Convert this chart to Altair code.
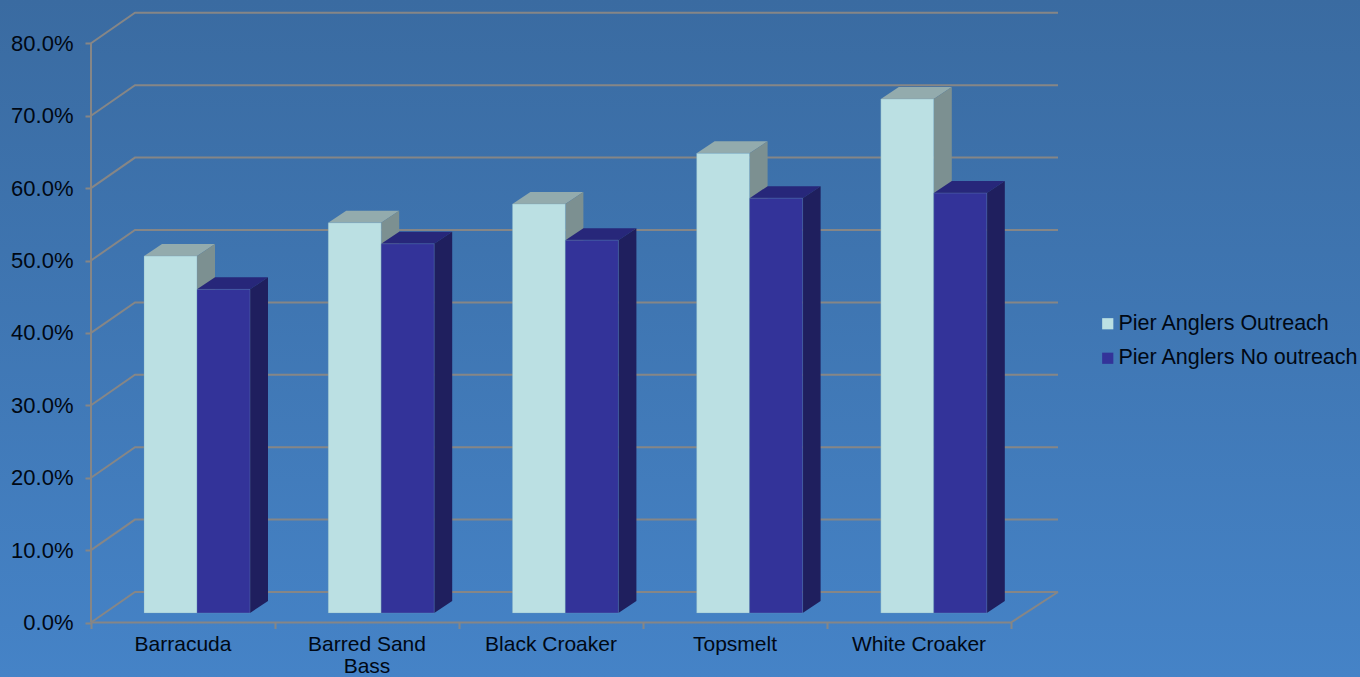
import altair as alt
import pandas as pd

# Survey results per species, in percent
species = ["Barracuda", "Barred Sand\nBass", "Black Croaker", "Topsmelt", "White Croaker"]
outreach = [49.3, 53.9, 56.5, 63.5, 71.0]
no_outreach = [44.7, 51.0, 51.5, 57.3, 58.0]
series_names = ["Pier Anglers Outreach", "Pier Anglers No outreach"]
y_ticks = [0, 10, 20, 30, 40, 50, 60, 70, 80]

WIDTH, HEIGHT = 1360, 677
PX_PER_UNIT_X = 184.2   # one category slot
PX_PER_UNIT_Y = 7.24    # one percentage point
ORIGIN_X = 197          # pixel of the first category's bar junction
ORIGIN_Y = 622.5        # pixel of 0% on the front axis

def ux(px):
    return px / PX_PER_UNIT_X

def uy(px):
    return px / PX_PER_UNIT_Y

# Oblique projection offsets, expressed in scale units
BAR_W = ux(53)
BAR_DX, BAR_DY = ux(18), uy(12)
BASE = uy(9.5)
WALL_DX, WALL_DY = ux(44), uy(30.5)
AXIS_X = ux(91 - ORIGIN_X)
SLOT = ux(184)
FLOOR_END = AXIS_X + 5 * SLOT
WALL_END = ux(1058 - ORIGIN_X)

x_scale = alt.Scale(domain=[-ORIGIN_X / PX_PER_UNIT_X, (WIDTH - ORIGIN_X) / PX_PER_UNIT_X], nice=False, zero=False)
y_scale = alt.Scale(domain=[-(HEIGHT - ORIGIN_Y) / PX_PER_UNIT_Y, ORIGIN_Y / PX_PER_UNIT_Y], nice=False, zero=False)

LIGHT, DARK = "#BBE0E3", "#333399"
LIGHT_TOP, LIGHT_SIDE = "#93ABAD", "#7C9091"
DARK_TOP, DARK_SIDE = "#27277A", "#1F1F5E"
GRID = "#868686"
FONT = "Liberation Sans"
INK = "#000814"

fronts, faces = [], []
for i, name in enumerate(species):
    for s, (series, value) in enumerate(zip(series_names, (outreach[i], no_outreach[i]))):
        left = i + (s - 1) * BAR_W
        right = left + BAR_W
        top = BASE + value
        fronts.append({"series": series, "x": left, "x2": right, "y": BASE, "y2": top})
        top_color, side_color = (LIGHT_TOP, LIGHT_SIDE) if s == 0 else (DARK_TOP, DARK_SIDE)
        key = f"{i}-{s}"
        # Top face as a sheared area, side face as a two-point area
        for px_x, hi, lo in [
            (left, top, top),
            (left + BAR_DX, top + BAR_DY, top),
            (right, top + BAR_DY, top),
            (right + BAR_DX, top + BAR_DY, top + BAR_DY),
        ]:
            faces.append({"key": key + "t", "s": s, "fill": top_color, "x": px_x, "y": hi, "y2": lo})
        for px_x, hi, lo in [
            (right, top, BASE),
            (right + BAR_DX, top + BAR_DY, BASE + BAR_DY),
        ]:
            faces.append({"key": key + "r", "s": s, "fill": side_color, "x": px_x, "y": hi, "y2": lo})

fronts = pd.DataFrame(fronts)
faces = pd.DataFrame(faces)

# Wall gridlines: one bent line per tick, plus the floor's front and right edges
grid_rows = []
for t in y_ticks:
    grid_rows += [
        {"key": f"g{t}", "x": AXIS_X, "y": t, "o": 0},
        {"key": f"g{t}", "x": AXIS_X + WALL_DX, "y": t + WALL_DY, "o": 1},
        {"key": f"g{t}", "x": WALL_END, "y": t + WALL_DY, "o": 2},
    ]
grid_rows += [
    {"key": "floor", "x": AXIS_X, "y": 0, "o": 0},
    {"key": "floor", "x": FLOOR_END, "y": 0, "o": 1},
    {"key": "floor", "x": WALL_END, "y": WALL_DY, "o": 2},
    {"key": "wall", "x": AXIS_X, "y": 0, "o": 0},
    {"key": "wall", "x": AXIS_X, "y": y_ticks[-1], "o": 1},
]
grid = pd.DataFrame(grid_rows)

labels = pd.DataFrame({
    "name": species,
    "x": [AXIS_X + (i + 0.5) * SLOT for i in range(len(species))],
    "y": [-uy(28.5)] * len(species),
})

background = alt.Chart(alt.Data(values=[{}])).mark_rect(
    color=alt.Gradient(
        gradient="linear",
        x1=0, x2=0, y1=0, y2=1,
        stops=[alt.GradientStop(offset=0, color="#3A6BA1"), alt.GradientStop(offset=1, color="#4583C7")],
    )
).encode(x=alt.value(0), x2=alt.value(WIDTH), y=alt.value(0), y2=alt.value(HEIGHT))

y_axis = alt.Axis(
    values=y_ticks, offset=-(AXIS_X + ORIGIN_X / PX_PER_UNIT_X) * PX_PER_UNIT_X, domain=False, grid=False, title=None,
    labelExpr="format(datum.value, '.1f') + '%'", labelFont=FONT, labelFontSize=22, labelColor=INK,
    tickColor=GRID, tickSize=6, tickWidth=2, labelPadding=12, zindex=1,
)
x_axis = alt.Axis(
    values=[AXIS_X + k * SLOT for k in range(len(species) + 1)], offset=-(HEIGHT - ORIGIN_Y), domain=False, grid=False,
    title=None, labels=False, tickColor=GRID, tickSize=6, tickWidth=2, zindex=1,
)

grid_layer = alt.Chart(grid).mark_line(color=GRID, strokeWidth=2).encode(
    x=alt.X("x:Q", scale=x_scale, axis=x_axis),
    y=alt.Y("y:Q", scale=y_scale, axis=y_axis),
    detail="key:N",
    order="o:Q",
)

def face_layer(s):
    return alt.Chart(faces[faces["s"] == s]).mark_area(opacity=1, interpolate="linear").encode(
        x=alt.X("x:Q", scale=x_scale, title=None),
        y=alt.Y("y:Q", scale=y_scale, title=None),
        y2="y2:Q",
        color=alt.Color("fill:N", scale=None),
        detail="key:N",
    )

front_layer = alt.Chart(fronts).mark_rect(stroke="#6E9DB8", strokeWidth=1, strokeOpacity=0.3).encode(
    x=alt.X("x:Q", scale=x_scale, title=None),
    x2="x2:Q",
    y=alt.Y("y:Q", scale=y_scale, title=None),
    y2="y2:Q",
    color=alt.Color(
        "series:N",
        scale=alt.Scale(domain=series_names, range=[LIGHT, DARK]),
        legend=alt.Legend(
            orient="none", legendX=1097, legendY=313, title=None, symbolType="square", symbolSize=125,
            symbolStrokeWidth=0, labelFont=FONT, labelFontSize=21.5, labelColor=INK, labelLimit=300,
            rowPadding=11.5, padding=0, labelOffset=0,
        ),
    ),
)

label_layer = alt.Chart(labels).mark_text(
    font=FONT, fontSize=21, color=INK, align="center", baseline="alphabetic", lineBreak="\n", lineHeight=21.5,
).encode(
    x=alt.X("x:Q", scale=x_scale, title=None),
    y=alt.Y("y:Q", scale=y_scale, title=None),
    text="name:N",
)

chart = alt.layer(background, grid_layer, face_layer(0), face_layer(1), front_layer, label_layer).properties(
    width=WIDTH, height=HEIGHT, padding=0, autosize=alt.AutoSizeParams(type="none"),
).configure_view(stroke=None)

chart.save("out.html", embed_options={"renderer": "svg", "actions": False})
